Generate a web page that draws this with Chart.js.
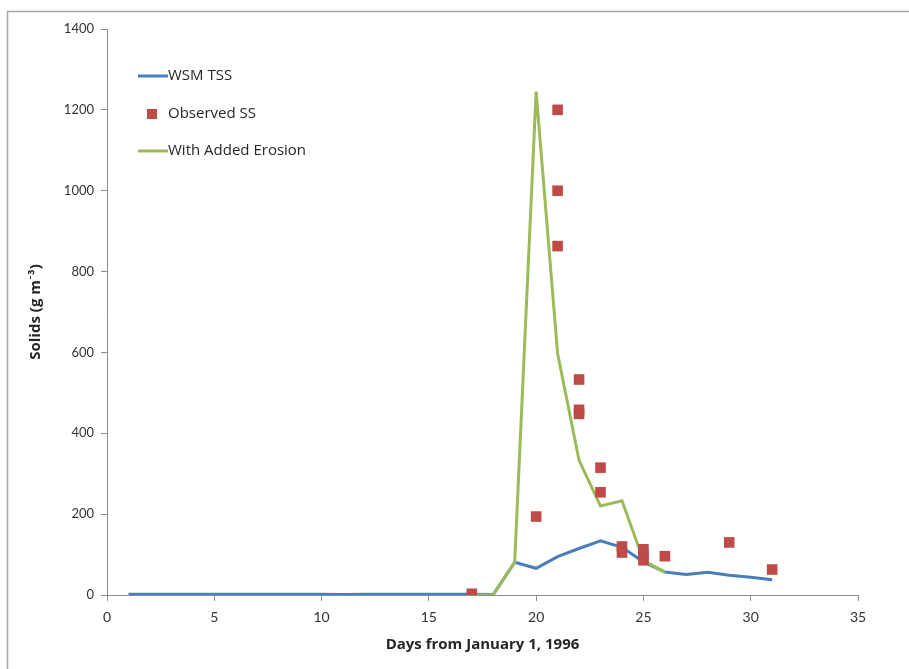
<!DOCTYPE html>
<html>
<head>
<meta charset="utf-8">
<script src="https://cdn.jsdelivr.net/npm/chart.js@4.4.0/dist/chart.umd.min.js"></script>
<style>
  html, body { margin: 0; padding: 0; background: #ffffff; }
  #wrap { width: 909px; height: 669px; position: relative; }
</style>
</head>
<body>
<div id="wrap"><canvas id="c" width="909" height="669"></canvas></div>
<script>
// ---- Data ----
const wsmDays = [1,2,3,4,5,6,7,8,9,10,11,12,13,14,15,16,17,18,19,20,21,22,23,24,25,26,27,28,29,30,31];
const wsmTSS  = [2,2,2,2,2,2,2,2,2,2,1,2,2,2,2,2,2,1,81,66,95,115,134,118,82,57,51,56,49,44,38];

const erosionDays = [17,18,19,20,21,22,23,24,25,26];
const erosionTSS  = [0,0,81,1245,597,333,220,233,86,56];

const obsDays = [17,20,21,21,21,22,22,22,23,23,24,24,25,25,25,26,29,31];
const obsSS   = [3,194,1200,1000,863,533,458,448,315,254,120,105,113,98,86,96,130,63];

const xTicks = [0,5,10,15,20,25,30,35];
const yTicks = [0,200,400,600,800,1000,1200,1400];

const seriesNames = ['WSM TSS', 'Observed SS', 'With Added Erosion'];
const xTitle = 'Days from January 1, 1996';
const yTitle = 'Solids (g m\u207B\u00B3)';

const toXY = (xs, ys) => xs.map((x, i) => ({x: x, y: ys[i]}));

const BLUE = '#4a7ebb', RED = '#be4b48', GREEN = '#9bbb59';
const TICKFONT = 'Lato, "Open Sans", sans-serif';
const TEXTFONT = '"Open Sans", Lato, sans-serif';

const framePlugin = {
  id: 'frame',
  beforeDraw(chart) {
    const ctx = chart.ctx;
    ctx.save();
    ctx.fillStyle = '#ffffff';
    ctx.fillRect(0, 0, chart.width, chart.height);
    ctx.strokeStyle = '#a6a6a6';
    ctx.lineWidth = 1.5;
    ctx.beginPath();
    ctx.moveTo(7.5, chart.height);
    ctx.lineTo(7.5, 11.5);
    ctx.lineTo(chart.width, 11.5);
    ctx.stroke();
    ctx.restore();
  }
};

const legendPlugin = {
  id: 'innerLegend',
  afterDraw(chart) {
    const ctx = chart.ctx;
    ctx.save();
    ctx.font = '15px ' + TEXTFONT;
    ctx.textBaseline = 'middle';
    ctx.textAlign = 'left';
    const rows = [76, 114, 151];
    const ds = chart.data.datasets;
    ds.forEach((d, i) => {
      const y = rows[i];
      if (d.showLine === false) {
        ctx.fillStyle = d.backgroundColor;
        ctx.fillRect(147, y - 5, 10, 10);
      } else {
        ctx.strokeStyle = d.borderColor;
        ctx.lineWidth = 3;
        ctx.beginPath();
        ctx.moveTo(138, y);
        ctx.lineTo(168, y);
        ctx.stroke();
      }
      ctx.fillStyle = '#262626';
      ctx.fillText(d.label, 168, y);
    });
    ctx.restore();
  }
};

new Chart(document.getElementById('c'), {
  type: 'scatter',
  data: {
    datasets: [
      {
        label: seriesNames[0],
        data: toXY(wsmDays, wsmTSS),
        showLine: true,
        borderColor: BLUE,
        backgroundColor: BLUE,
        borderWidth: 3,
        pointRadius: 0,
        tension: 0,
        order: 2
      },
      {
        label: seriesNames[1],
        data: toXY(obsDays, obsSS),
        showLine: false,
        pointStyle: 'rect',
        pointRadius: 7.5,
        borderColor: RED,
        backgroundColor: RED,
        borderWidth: 0,
        order: 0
      },
      {
        label: seriesNames[2],
        data: toXY(erosionDays, erosionTSS),
        showLine: true,
        borderColor: GREEN,
        backgroundColor: GREEN,
        borderWidth: 3,
        pointRadius: 0,
        tension: 0,
        order: 1
      }
    ]
  },
  options: {
    responsive: false,
    animation: false,
    devicePixelRatio: 1,
    layout: { padding: { left: 0, top: 29, right: 51, bottom: 0 } },
    plugins: {
      legend: { display: false },
      tooltip: { enabled: false },
      title: { display: false }
    },
    scales: {
      x: {
        type: 'linear',
        min: 0, max: 35,
        afterFit(scale) { scale.height = 74; },
        afterBuildTicks(scale) { scale.ticks = xTicks.map(v => ({value: v})); },
        grid: { drawOnChartArea: false, drawTicks: true, tickLength: 6, color: '#8c8c8c', lineWidth: 1 },
        border: { display: true, color: '#8c8c8c', width: 1 },
        ticks: {
          font: { family: TICKFONT, size: 14 }, color: '#333333', padding: 8, maxRotation: 0,
          callback: (v) => String(v)
        },
        title: {
          display: true, text: xTitle,
          font: { family: TEXTFONT, size: 15, weight: 'bold' },
          color: '#262626',
          padding: { top: 0, bottom: 15 }
        }
      },
      y: {
        type: 'linear',
        min: 0, max: 1400,
        afterFit(scale) { scale.width = 107; },
        afterBuildTicks(scale) { scale.ticks = yTicks.map(v => ({value: v})); },
        grid: { drawOnChartArea: false, drawTicks: true, tickLength: 6, color: '#8c8c8c', lineWidth: 1 },
        border: { display: true, color: '#8c8c8c', width: 1 },
        ticks: {
          font: { family: TICKFONT, size: 13 }, color: '#333333', padding: 7,
          callback: (v) => String(v)
        },
        title: {
          display: true, text: yTitle,
          font: { family: TEXTFONT, size: 15, weight: 'bold' },
          color: '#262626',
          padding: { top: 27, bottom: 0 }
        }
      }
    }
  },
  plugins: [framePlugin, legendPlugin]
});
</script>
</body>
</html>
